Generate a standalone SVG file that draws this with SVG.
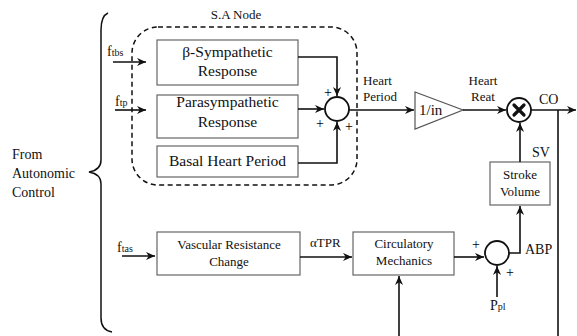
<svg xmlns="http://www.w3.org/2000/svg" width="577" height="336" viewBox="0 0 577 336">
<style>
text{font-family:"Liberation Serif","Times New Roman",serif;fill:#111}
.box{fill:#fff;stroke:#666;stroke-width:1.2}
.big{font-size:15.5px;text-anchor:middle}
.mid{font-size:13px;text-anchor:middle}
.lbl{font-size:13px}
.c{fill:none;stroke:#111;stroke-width:1.6;marker-end:url(#ah)}
.cn{fill:none;stroke:#111;stroke-width:1.6}
.sum{fill:#fff;stroke:#111;stroke-width:1.8}
.pl{font-size:14px;fill:#000}
</style>
<defs>
<marker id="ah" viewBox="0 0 10 10" refX="10" refY="5" markerWidth="11" markerHeight="9" orient="auto" markerUnits="userSpaceOnUse">
<path d="M0,0.5 L10,5 L0,9.5 L3,5 z" fill="#111"/>
</marker>
</defs>
<rect width="577" height="336" fill="#fff"/>

<g id="brace">
<path d="M108,13 Q101,16 101,30 V160 Q101,170 89,172 Q101,174 101,184 V318 Q101,330 112,332" fill="none" stroke="#111" stroke-width="1.5"/>
<text x="12" y="159" style="font-size:14px">From</text>
<text x="12" y="178" style="font-size:14px">Autonomic</text>
<text x="12" y="197" style="font-size:14px">Control</text>
</g>

<g id="sa-node">
<rect x="132" y="27" width="225" height="158" rx="26" ry="26" fill="none" stroke="#111" stroke-width="1.5" stroke-dasharray="5,3.5"/>
<text class="mid" x="236" y="19">S.A Node</text>
</g>

<g id="beta">
<rect class="box" x="157" y="40" width="141" height="45"/>
<text class="big" x="227.5" y="57">β-Sympathetic</text>
<text class="big" x="227.5" y="76">Response</text>
</g>
<g id="para">
<rect class="box" x="157" y="95" width="141" height="43"/>
<text class="big" x="227.5" y="107">Parasympathetic</text>
<text class="big" x="227.5" y="127">Response</text>
</g>
<g id="basal">
<rect class="box" x="157" y="146" width="141" height="31"/>
<text class="big" x="227.5" y="166">Basal Heart Period</text>
</g>

<g id="sum1">
<circle class="sum" cx="337" cy="109" r="12"/>
<text class="pl" x="324" y="97">+</text>
<text class="pl" x="316" y="128">+</text>
<text class="pl" x="345" y="131">+</text>
</g>

<g id="inv">
<path d="M415,92 L463,110 L415,129 z" fill="#fff" stroke="#555" stroke-width="1.2"/>
<text x="419" y="115" style="font-size:15px">1/in</text>
</g>

<g id="mult">
<circle class="sum" cx="519" cy="110" r="12"/>
<path d="M514,105 L524,115 M524,105 L514,115" stroke="#111" stroke-width="3.2" stroke-linecap="round"/>
</g>

<g id="stroke">
<rect class="box" x="490" y="162" width="60" height="43"/>
<text class="mid" x="520" y="179">Stroke</text>
<text class="mid" x="520" y="196">Volume</text>
</g>

<g id="vascular">
<rect class="box" x="157" y="232" width="143" height="43"/>
<text class="mid" x="229" y="249">Vascular Resistance</text>
<text class="mid" x="229" y="266">Change</text>
</g>

<g id="circ">
<rect class="box" x="353" y="232" width="101" height="43"/>
<text class="mid" x="404" y="248">Circulatory</text>
<text class="mid" x="404" y="265">Mechanics</text>
</g>

<g id="sum2">
<circle class="sum" cx="497" cy="253" r="12"/>
<text class="pl" x="472" y="249">+</text>
<text class="pl" x="506" y="277">+</text>
</g>

<g id="connectors">
<path class="c" d="M113,62 H146"/>
<path class="c" d="M115,110 H146"/>
<path class="c" d="M298,57 H337 V96"/>
<path class="c" d="M298,109 H324"/>
<path class="c" d="M298,163 H337 V122"/>
<path class="c" d="M349,110 H414"/>
<path class="c" d="M463,110 H506"/>
<path class="c" d="M531,110 H576"/>
<path class="cn" d="M558,110 V336"/>
<path class="c" d="M520,162 V123"/>
<path class="c" d="M122,256 H155"/>
<path class="c" d="M300,257 H352"/>
<path class="c" d="M454,257 H484"/>
<path class="c" d="M497,297 V266"/>
<path class="c" d="M509,253 H520 V206"/>
<path class="c" d="M399,336 V276"/>
</g>

<g id="labels">
<text x="107" y="56" style="font-size:14px">f<tspan style="font-size:10px">tbs</tspan></text>
<text x="115" y="106" style="font-size:14px">f<tspan style="font-size:10px">tp</tspan></text>
<text x="117" y="252" style="font-size:14px">f<tspan style="font-size:10px">tas</tspan></text>
<text class="lbl" x="363" y="85">Heart</text>
<text class="lbl" x="363" y="101">Period</text>
<text class="mid" x="483" y="85">Heart</text>
<text class="mid" x="483" y="101">Reat</text>
<text x="539" y="104" style="font-size:14px">CO</text>
<text x="532" y="157" style="font-size:14px">SV</text>
<text x="525" y="254" style="font-size:14px">ABP</text>
<text class="lbl" x="310" y="247">αTPR</text>
<text x="490" y="310" style="font-size:14px">P<tspan style="font-size:10px">pl</tspan></text>
</g>
</svg>
